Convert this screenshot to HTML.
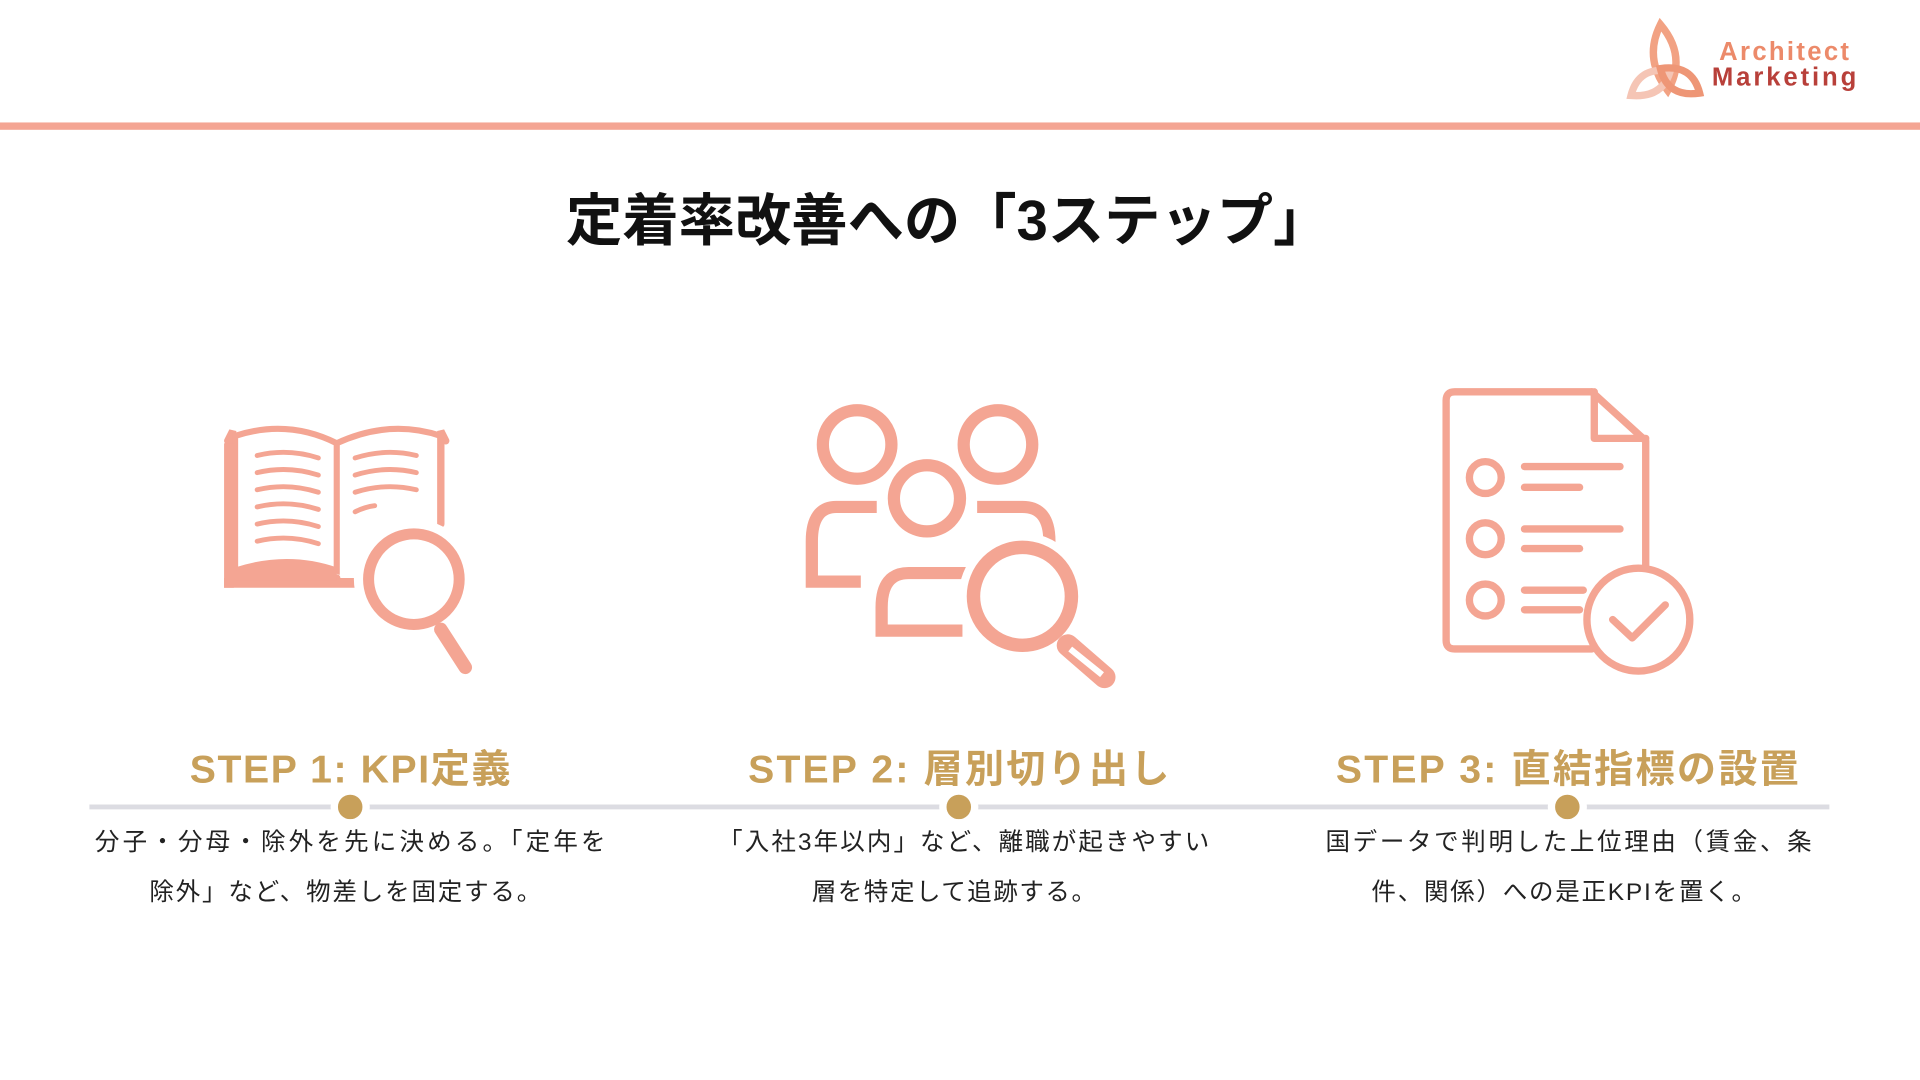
<!DOCTYPE html>
<html><head><meta charset="utf-8"><style>
html,body{margin:0;padding:0;background:#fff;width:1920px;height:1080px;overflow:hidden}
svg{display:block}
.jp{font-family:"Liberation Sans","Noto Sans CJK JP",sans-serif}
</style></head><body>
<svg width="1920" height="1080" viewBox="0 0 1568 882" xmlns="http://www.w3.org/2000/svg">
<rect x="0" y="100" width="1568" height="6" fill="#F4A593"/>
<!-- logo -->
<g fill="none" stroke-width="6" stroke-linecap="round">
<path d="M1356,20 Q1378,46 1362,74 Q1342,48 1356,20Z" stroke="#F2A283"/>
<path d="M1332,78 Q1338,54 1364,58 Q1358,80 1332,78Z" stroke="#F5C5B5"/>
<path d="M1388,76 Q1382,52 1356,56 Q1362,80 1388,76Z" stroke="#EE9676"/>
</g>
<text x="1404" y="49" class="jp" font-size="21" font-weight="bold" fill="#EC8A6A" textLength="106">Architect</text>
<text x="1398" y="70" class="jp" font-size="21" font-weight="bold" fill="#B8403A" textLength="118">Marketing</text>
<!-- title -->
<text x="774" y="196" text-anchor="middle" class="jp" font-size="46" font-weight="bold" fill="#111">定着率改善への「3ステップ」</text>

<!-- book icon -->
<g stroke="#F4A593" fill="none" stroke-linecap="round">
<path d="M186,360 L190,352 L190,472 L275,472" stroke-width="6"/>
<path d="M364,360 L360,352 L360,428" stroke-width="6"/>
<path d="M192,356 Q235,342 275,362 L275,466 Q235,452 192,466 Z" stroke-width="5"/>
<path d="M275,362 Q318,342 360,356 L360,425" stroke-width="5"/>
<rect x="183" y="362" width="8" height="118" fill="#F4A593" stroke="none"/>
<path d="M183,472 L295,472 L295,480 L183,480Z" fill="#F4A593" stroke="none"/>
<path d="M192,466 Q235,452 275,466 L275,474 L192,474Z" fill="#F4A593" stroke="none"/>
<g stroke-width="4">
<path d="M210,372 Q235,366 260,374"/><path d="M210,386 Q235,380 260,388"/><path d="M210,400 Q235,394 260,402"/>
<path d="M210,414 Q235,408 260,416"/><path d="M210,428 Q235,422 260,430"/><path d="M210,442 Q235,436 260,444"/>
<path d="M290,374 Q315,366 340,372"/><path d="M290,388 Q315,380 340,386"/><path d="M290,402 Q315,394 340,400"/>
<path d="M290,418 Q298,414 306,413"/>
</g>
<circle cx="338" cy="473" r="40" stroke="#fff" stroke-width="18"/>
<circle cx="338" cy="473" r="37" stroke-width="9" fill="#fff"/>
<line x1="360" y1="514" x2="380" y2="545" stroke-width="11"/>
</g>

<!-- people icon -->
<g stroke="#F4A593" fill="none" stroke-width="10">
<circle cx="700" cy="363" r="28"/>
<circle cx="815" cy="363" r="28"/>
<path d="M716,414 L683,414 Q663,414 663,442 L663,475 L703,475"/>
<path d="M798,414 L835,414 Q857,414 857,442 L857,448"/>
<circle cx="757" cy="407" r="27" stroke="#fff" stroke-width="20"/>
<circle cx="757" cy="407" r="27" fill="#fff"/>
<path d="M790,468 L742,468 Q720,468 720,496 L720,515 L786,515"/>
<circle cx="835" cy="487" r="42" stroke="#fff" stroke-width="20" fill="#fff"/>
<circle cx="835" cy="487" r="40" stroke-width="11"/>
<line x1="872" y1="527" x2="902" y2="553" stroke-width="18" stroke-linecap="round"/>
<line x1="874" y1="530" x2="900" y2="551" stroke="#fff" stroke-width="5"/>
</g>

<!-- document icon -->
<g stroke="#F4A593" fill="none" stroke-width="6" stroke-linecap="round" stroke-linejoin="round">
<path d="M1300,320 L1188,320 Q1181,320 1181,327 L1181,523 Q1181,530 1188,530 L1300,530"/>
<path d="M1300,320 L1344,360 L1344,465"/>
<path d="M1302,320 L1302,358 L1344,358"/>
<circle cx="1213" cy="390" r="13"/><circle cx="1213" cy="440" r="13"/><circle cx="1213" cy="490" r="13"/>
<line x1="1245" y1="381" x2="1323" y2="381"/><line x1="1245" y1="398" x2="1290" y2="398"/>
<line x1="1245" y1="432" x2="1323" y2="432"/><line x1="1245" y1="448" x2="1290" y2="448"/>
<line x1="1245" y1="482" x2="1293" y2="482"/><line x1="1245" y1="498" x2="1290" y2="498"/>
<circle cx="1338" cy="506" r="42" fill="#fff"/>
<path d="M1317,506 L1333,521 L1360,494"/>
</g>

<!-- headings -->
<g class="jp" font-size="32" font-weight="bold" fill="#C8A05A" text-anchor="middle">
<text x="286" y="639" textLength="262">STEP 1: KPI定義</text>
<text x="783" y="639" textLength="344">STEP 2: 層別切り出し</text>
<text x="1280" y="639" textLength="378">STEP 3: 直結指標の設置</text>
</g>
<!-- timeline -->
<line x1="73" y1="659" x2="1494" y2="659" stroke="#DCDCE2" stroke-width="4"/>
<g fill="#C8A05A" stroke="#fff" stroke-width="6">
<circle cx="286" cy="659" r="13"/><circle cx="783" cy="659" r="13"/><circle cx="1280" cy="659" r="13"/>
</g>
<!-- bodies -->
<g class="jp" font-size="20" fill="#222" text-anchor="middle">
<text x="286" y="694" textLength="417">分子・分母・除外を先に決める。「定年を</text>
<text x="282" y="735" textLength="320">除外」など、物差しを固定する。</text>
<text x="787" y="694" textLength="401">「入社3年以内」など、離職が起きやすい</text>
<text x="779" y="735" textLength="232">層を特定して追跡する。</text>
<text x="1281" y="694" textLength="397">国データで判明した上位理由（賃金、条</text>
<text x="1277" y="735" textLength="314">件、関係）への是正KPIを置く。</text>
</g>
</svg>
</body></html>
